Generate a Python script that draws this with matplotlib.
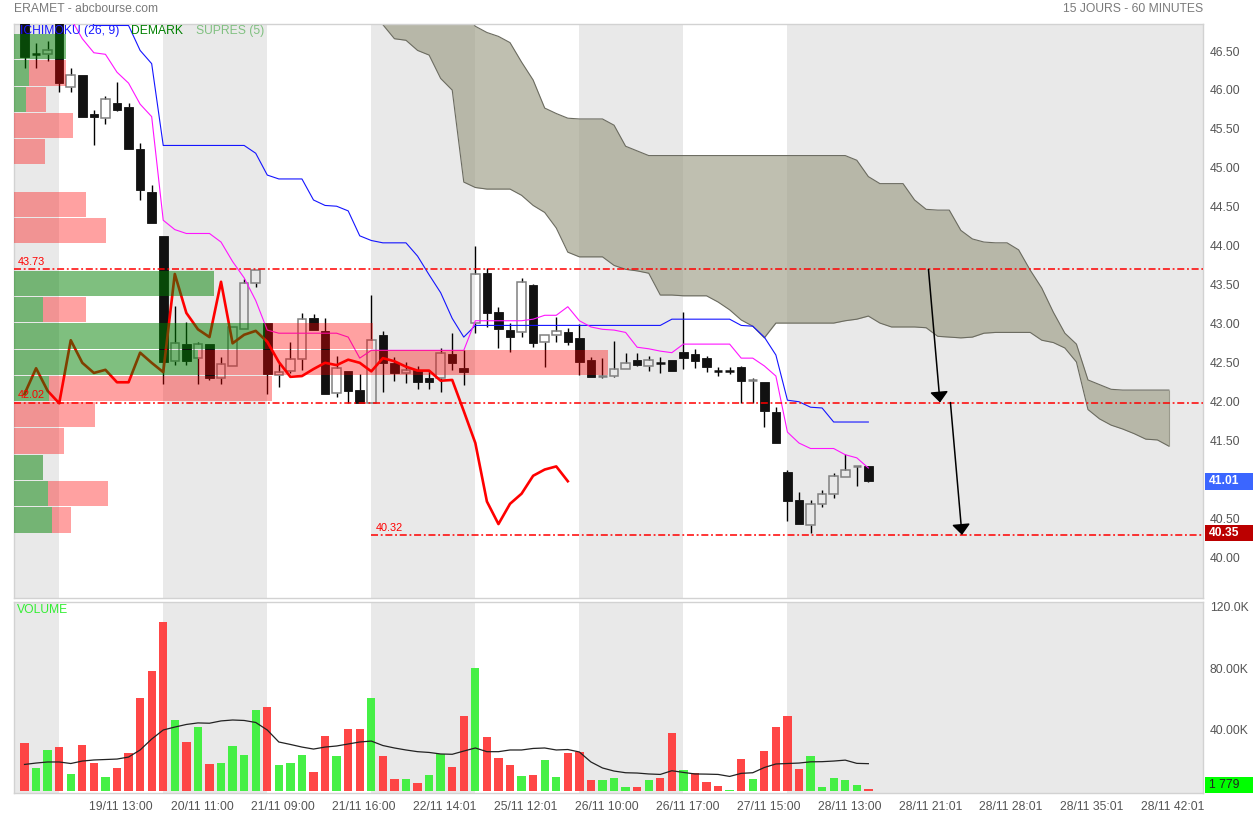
import matplotlib
matplotlib.use("Agg")
import matplotlib.pyplot as plt
import matplotlib.transforms as mtransforms
from matplotlib.patches import Rectangle
from matplotlib.ticker import FormatStrFormatter
import numpy as np

plt.rcParams["font.family"] = ["Liberation Sans", "DejaVu Sans"]

OUT_PATH = "out.png"
W_PX, H_PX, DPI = 1253, 818, 100

TITLE = "ERAMET - abcbourse.com"
PERIOD = "15 JOURS - 60 MINUTES"

# hourly candles, 18/11 14:00 -> 28/11 16:00
OPENS = [46.99, 46.50, 46.49, 46.95, 46.07, 46.23, 45.72, 45.67, 45.87, 45.81,
         45.28, 44.72, 44.16, 42.55, 42.77, 42.59, 42.77, 42.33, 42.49, 42.96,
         43.55, 43.04, 42.37, 42.42, 42.58, 43.10, 42.94, 42.14, 42.42, 42.18,
         42.01, 42.89, 42.53, 42.40, 42.44, 42.33, 42.33, 42.64, 42.46, 43.04,
         43.68, 43.18, 42.95, 42.92, 43.53, 42.80, 42.89, 42.92, 42.85, 42.57,
         42.35, 42.36, 42.45, 42.57, 42.49, 42.54, 42.57, 42.67, 42.64, 42.59,
         42.44, 42.44, 42.48, 42.30, 42.28, 41.90, 41.13, 40.77, 40.45, 40.72,
         40.85, 41.07, 41.19, 41.20]
HIGHS = [47.04, 46.63, 46.66, 46.98, 46.31, 46.23, 45.77, 45.95, 46.13, 45.87,
         45.35, 44.81, 44.16, 43.26, 43.05, 42.80, 42.77, 42.60, 42.99, 43.60,
         43.72, 43.04, 42.53, 42.80, 43.17, 43.16, 43.10, 42.62, 42.42, 42.39,
         43.40, 42.94, 42.60, 42.54, 42.49, 42.44, 42.72, 42.91, 42.69, 44.03,
         43.75, 43.25, 43.04, 43.62, 43.54, 42.89, 43.12, 42.98, 43.03, 42.60,
         42.59, 42.81, 42.66, 42.66, 42.62, 42.60, 42.57, 43.18, 42.71, 42.62,
         42.48, 42.48, 42.49, 42.33, 42.28, 41.96, 41.16, 40.87, 40.77, 40.90,
         41.12, 41.36, 41.20, 41.20]
LOWS = [46.31, 46.32, 46.41, 46.00, 46.01, 45.68, 45.32, 45.60, 45.76, 45.27,
        44.62, 44.32, 42.26, 42.50, 42.50, 42.26, 42.31, 42.26, 42.49, 42.96,
        43.50, 42.13, 42.22, 42.40, 42.44, 42.95, 42.13, 42.09, 42.01, 42.01,
        42.01, 42.16, 42.30, 42.27, 42.19, 42.19, 42.16, 42.44, 42.24, 42.91,
        42.99, 42.72, 42.67, 42.86, 42.73, 42.48, 42.80, 42.76, 42.37, 42.35,
        42.33, 42.35, 42.45, 42.49, 42.42, 42.40, 42.42, 42.45, 42.46, 42.41,
        42.36, 42.38, 42.01, 42.01, 41.71, 41.50, 40.50, 40.46, 40.35, 40.68,
        40.80, 41.07, 40.95, 41.00]
CLOSES = [46.45, 46.49, 46.55, 46.12, 46.23, 45.69, 45.68, 45.91, 45.77, 45.27,
          44.75, 44.32, 42.54, 42.78, 42.55, 42.77, 42.33, 42.51, 42.99, 43.55,
          43.72, 42.39, 42.41, 42.58, 43.09, 42.95, 42.13, 42.46, 42.17, 42.01,
          42.82, 42.53, 42.40, 42.44, 42.28, 42.28, 42.66, 42.53, 42.41, 43.67,
          43.17, 42.96, 42.86, 43.57, 42.78, 42.89, 42.94, 42.80, 42.54, 42.35,
          42.36, 42.45, 42.53, 42.50, 42.57, 42.53, 42.42, 42.59, 42.55, 42.48,
          42.43, 42.43, 42.30, 42.31, 41.91, 41.50, 40.75, 40.46, 40.72, 40.85,
          41.08, 41.16, 41.20, 41.01]

# volume in thousands of shares, 'g' = buying bar, 'r' = selling bar
VOLUMES = [31.6, 15.3, 27.0, 28.9, 11.6, 30.0, 18.3, 9.2, 15.5, 25.0,
           60.8, 78.4, 110.2, 46.5, 32.2, 42.2, 17.9, 18.7, 29.6, 23.9,
           53.0, 55.0, 17.0, 18.5, 23.7, 12.9, 35.9, 23.3, 40.5, 40.8,
           61.0, 23.1, 7.9, 8.1, 5.7, 10.5, 24.4, 16.2, 49.1, 80.5,
           35.7, 21.6, 17.4, 10.1, 10.9, 20.3, 9.6, 25.0, 25.7, 7.5,
           7.5, 9.0, 2.8, 2.9, 7.5, 9.0, 37.8, 13.8, 11.8, 6.4,
           3.8, 0.8, 20.9, 7.9, 26.3, 42.0, 48.9, 14.6, 23.3, 2.7,
           8.8, 7.3, 4.2, 1.779]
VOLUME_SIDE = list("rggrgrrgrr" "rrrgrgrggg" "grgggrrgrr" "grrgrggrrg"
                   "rrrgrggrrr" "gggrgrrgrr" "rgrgrrrrgg" "gggr")
VOLUME_MA = [17.6, 18.5, 19.2, 19.2, 18.2, 19.8, 20.5, 20.8, 21.1, 22.4,
             27.0, 34.1, 40.0, 41.9, 43.6, 44.6, 44.4, 45.9, 46.5, 46.2,
             44.9, 40.0, 32.2, 30.6, 28.9, 27.6, 28.9, 29.6, 30.9, 32.2,
             32.8, 29.9, 28.3, 27.0, 25.9, 25.4, 24.4, 24.2, 26.3, 28.3,
             25.9, 25.9, 27.0, 27.0, 28.0, 28.3, 27.0, 27.3, 25.7, 19.2,
             15.3, 13.3, 12.2, 12.0, 11.4, 11.1, 13.5, 12.4, 11.4, 11.3,
             11.1, 9.8, 11.8, 12.2, 15.6, 17.9, 18.2, 18.5, 19.3, 19.4,
             19.8, 20.4, 18.3, 18.1]

# ichimoku (26, 9)
TENKAN = [47.24, 47.24, 47.24, 47.24, 46.95, 46.69, 46.51, 46.49, 46.26, 46.12,
          45.85, 45.69, 44.36, 44.24, 44.19, 44.19, 44.19, 44.08, 43.83, 43.62,
          43.33, 42.95, 42.91, 42.91, 42.91, 42.91, 42.91, 42.91, 42.86, 42.59,
          42.69, 42.69, 42.69, 42.69, 42.69, 42.69, 42.69, 42.69, 42.69, 43.07,
          43.07, 43.07, 43.07, 43.07, 43.09, 43.14, 43.14, 43.25, 43.07, 42.99,
          42.96, 42.95, 42.92, 42.73, 42.71, 42.68, 42.66, 42.77, 42.77, 42.77,
          42.77, 42.77, 42.59, 42.59, 42.49, 42.36, 41.64, 41.50, 41.43, 41.43,
          41.43, 41.35, 41.31, 41.18]
KIJUN = [47.24, 47.24, 47.24, 47.24, 47.24, 47.24, 46.86, 46.86, 46.86, 46.86,
         46.54, 46.37, 45.32, 45.32, 45.32, 45.32, 45.32, 45.32, 45.32, 45.32,
         45.22, 44.94, 44.89, 44.89, 44.89, 44.62, 44.55, 44.54, 44.48, 44.16,
         44.10, 44.07, 44.07, 44.07, 43.90, 43.66, 43.43, 43.10, 42.86, 43.01,
         43.01, 43.01, 43.01, 43.01, 43.01, 43.01, 43.01, 43.01, 43.01, 43.01,
         43.01, 43.01, 43.01, 43.01, 43.01, 43.01, 43.09, 43.09, 43.09, 43.09,
         43.09, 43.09, 43.01, 43.00, 42.86, 42.63, 42.05, 42.03, 41.96, 41.95,
         41.77, 41.77, 41.77, 41.77]
CHIKOU_SHIFT = 26
CLOUD_START = 31
SPAN_UPPER = [47.34, 47.34, 47.34, 47.34, 47.34, 47.34, 47.34, 47.04, 46.85, 46.77,
              46.72, 46.64, 46.39, 46.16, 45.80, 45.73, 45.67, 45.66, 45.66, 45.66,
              45.58, 45.31, 45.25, 45.19, 45.19, 45.19, 45.19, 45.19, 45.19, 45.19,
              45.19, 45.19, 45.19, 45.19, 45.19, 45.19, 45.19, 45.19, 45.19, 45.19,
              45.19, 45.13, 44.92, 44.83, 44.83, 44.83, 44.62, 44.50, 44.49, 44.49,
              44.23, 44.12, 44.08, 44.07, 44.07, 43.98, 43.72, 43.49, 43.18, 42.91,
              42.77, 42.31, 42.25, 42.19, 42.18, 42.18, 42.18, 42.18, 42.18]
SPAN_LOWER = [46.87, 46.69, 46.67, 46.54, 46.48, 46.18, 46.03, 44.85, 44.78, 44.76,
              44.76, 44.76, 44.68, 44.55, 44.46, 44.26, 43.95, 43.89, 43.89, 43.89,
              43.78, 43.73, 43.71, 43.68, 43.40, 43.40, 43.39, 43.39, 43.39, 43.31,
              43.21, 43.08, 43.00, 42.85, 43.04, 43.04, 43.04, 43.04, 43.04, 43.04,
              43.07, 43.09, 43.13, 43.04, 42.99, 42.99, 42.99, 42.98, 42.87, 42.86,
              42.85, 42.86, 42.91, 42.92, 42.92, 42.92, 42.92, 42.82, 42.79, 42.72,
              42.54, 41.93, 41.81, 41.73, 41.68, 41.62, 41.55, 41.54, 41.46]

# volume by price (bottom bin first)
PROFILE_LOW = 40.35
PROFILE_STEP = 0.3376
PROFILE_BUY = [38, 34, 29, 0, 0, 35, 184, 251, 29, 200, 0, 0, 0, 0, 0, 0, 12, 15, 52]
PROFILE_SELL = [19, 60, 0, 50, 81, 223, 410, 108, 43, 0, 0, 92, 72, 0, 31, 59, 20, 37, 0]

# supports / resistances, and the candle they start from (None = whole chart)
LEVELS = [43.73, 42.02, 40.32]
LEVEL_FROM = [None, None, 30]
PROJECTIONS = [((78.2, 43.73), (79.2, 42.02)), ((80.1, 42.02), (81.1, 40.32))]

SESSION_STARTS = [3, 12, 21, 30, 39, 48, 57, 66]
XTICK_POS = [8.35, 15.35, 22.35, 29.35, 36.35, 43.35, 50.35, 57.35, 64.35, 71.35,
             78.35, 85.35, 92.35, 99.35]
XTICK_LABELS = ["19/11 13:00", "20/11 11:00", "21/11 09:00", "21/11 16:00", "22/11 14:01",
                "25/11 12:01", "26/11 10:00", "26/11 17:00", "27/11 15:00", "28/11 13:00",
                "28/11 21:01", "28/11 28:01", "28/11 35:01", "28/11 42:01"]
PRICE_TICKS = [40.0, 40.5, 41.0, 41.5, 42.0, 42.5, 43.0, 43.5, 44.0, 44.5, 45.0, 45.5, 46.0, 46.5]
VOLUME_TICKS = [40, 80, 120]
VOLUME_TICK_LABELS = ["40.00K", "80.00K", "120.0K"]

XMIN, XMAX = -0.91, 101.95
PRICE_LIM = (39.511, 46.879)
VOLUME_LIM = (-0.98, 123.25)
BAR_PX = 11.56  # pixels per candle, used to size the volume-profile bars

GRAY_BG = "#e9e9e9"
BORDER = "#d2d2d2"
TEXT_GRAY = "#555555"
BODY_W = 0.74


def fx(x):
    return x / W_PX


def fy(y):
    return 1 - y / H_PX


def shade_sessions(axis):
    edges = [XMIN] + SESSION_STARTS + [XMAX]
    for k in range(len(edges) - 1):
        if k % 2 == 0:
            axis.axvspan(edges[k], edges[k + 1], color=GRAY_BG, lw=0, zorder=0)


def style_axis(axis):
    for sp in axis.spines.values():
        sp.set_color(BORDER)
        sp.set_linewidth(1.0)
    axis.set_facecolor("white")


def value_box(fig, axis, y, text, face, color, weight, bottom=False, h_px=17):
    tr = mtransforms.blended_transform_factory(fig.transFigure, axis.transData)
    lo, hi = axis.get_ylim()
    px_per_unit = axis.get_position().height * H_PX / (hi - lo)
    h = h_px / px_per_unit
    y0 = lo if bottom else y - h / 2
    fig.add_artist(Rectangle((fx(1205), y0), fx(1253) - fx(1205), h, transform=tr,
                             facecolor=face, edgecolor="none", zorder=10))
    fig.text(fx(1209), y0 + h / 2, text, transform=tr, ha="left", va="center",
             fontsize=8.7, color=color, fontweight=weight, zorder=11)


def draw_candles(ax):
    for i, (o, h, l, c) in enumerate(zip(OPENS, HIGHS, LOWS, CLOSES)):
        top, bot = max(o, c), min(o, c)
        if top - bot < 0.015:
            ax.vlines(i, l, h, color="black", lw=1.0, zorder=3)
            col = "#808080" if c >= o else "#111111"
            ax.hlines(c, i - BODY_W / 2, i + BODY_W / 2, color=col, lw=1.8, zorder=3)
            continue
        ax.vlines(i, top, h, color="black", lw=1.0, zorder=3)
        ax.vlines(i, l, bot, color="black", lw=1.0, zorder=3)
        if c > o:
            ax.add_patch(Rectangle((i - BODY_W / 2, bot), BODY_W, top - bot, fill=False,
                                   edgecolor="#808080", lw=1.1, zorder=3))
        else:
            ax.add_patch(Rectangle((i - BODY_W / 2, bot), BODY_W, top - bot,
                                   facecolor="#111111", edgecolor="#111111", lw=0.6, zorder=3))


def main():
    fig = plt.figure(figsize=(W_PX / DPI, H_PX / DPI), dpi=DPI)
    ax = fig.add_axes([fx(14), fy(598), fx(1203) - fx(14), fy(24) - fy(598)])
    vax = fig.add_axes([fx(14), fy(793), fx(1203) - fx(14), fy(602) - fy(793)], sharex=ax)
    style_axis(ax)
    style_axis(vax)

    idx = np.arange(len(CLOSES))
    shade_sessions(ax)
    shade_sessions(vax)

    # ichimoku cloud
    xc = np.arange(CLOUD_START, CLOUD_START + len(SPAN_UPPER))
    ax.fill_between(xc, SPAN_LOWER, SPAN_UPPER, color=(156 / 255, 156 / 255, 132 / 255),
                    alpha=0.64, lw=0, zorder=1.5)
    ax.plot(xc, SPAN_UPPER, color="#6b6b60", lw=0.8, zorder=1.6)
    ax.plot(xc, SPAN_LOWER, color="#6b6b60", lw=0.8, zorder=1.6)
    ax.vlines(xc[-1], SPAN_LOWER[-1], SPAN_UPPER[-1], color="#9a9a8c", lw=0.8, zorder=1.6)

    draw_candles(ax)

    ax.plot(idx, KIJUN, color="#1414ff", lw=0.8, zorder=4)
    ax.plot(idx, TENKAN, color="#ff14ff", lw=0.8, zorder=4)
    chikou = CLOSES[CHIKOU_SHIFT:]
    ax.plot(np.arange(len(chikou)), chikou, color="#ff0000", lw=1.9, zorder=5)

    # volume by price, drawn over the chart
    bases = PROFILE_LOW + PROFILE_STEP * np.arange(len(PROFILE_BUY))
    buy_w = np.array(PROFILE_BUY) / BAR_PX
    sell_w = np.array(PROFILE_SELL) / BAR_PX
    hgt = PROFILE_STEP * 0.96
    ax.barh(bases, buy_w, height=hgt, left=XMIN, align="edge",
            color=(0, 0.5, 0, 0.5), lw=0, zorder=6)
    ax.barh(bases, sell_w, height=hgt, left=XMIN + buy_w, align="edge",
            color=(1, 0, 0, 0.37), lw=0, zorder=6)

    for level, start in zip(LEVELS, LEVEL_FROM):
        x0 = XMIN if start is None else start
        ax.hlines(level, x0, XMAX, colors="#ff0000", linestyles=(0, (4.6, 1.8, 1.2, 1.8)),
                  lw=1.1, zorder=7)
        ax.annotate(f"{level:.2f}", xy=(x0, level), xytext=(3, 1.5), textcoords="offset points",
                    ha="left", va="bottom", fontsize=7.8, color="#ff0000", zorder=8)

    for (x0, y0), (x1, y1) in PROJECTIONS:
        ax.annotate("", xy=(x1, y1), xytext=(x0, y0),
                    arrowprops=dict(arrowstyle="-|>,head_length=0.65,head_width=0.55",
                                    color="black", lw=1.1, shrinkA=0, shrinkB=0,
                                    mutation_scale=10),
                    zorder=8)

    ax.set_xlim(XMIN, XMAX)
    ax.set_ylim(*PRICE_LIM)
    ax.yaxis.tick_right()
    ax.set_yticks(PRICE_TICKS)
    ax.yaxis.set_major_formatter(FormatStrFormatter("%.2f"))
    ax.tick_params(axis="y", length=0, pad=5, labelsize=8.7, labelcolor=TEXT_GRAY)
    ax.tick_params(axis="x", bottom=False, labelbottom=False)
    nudge = mtransforms.ScaledTranslation(0, 2.5 / DPI, fig.dpi_scale_trans)
    for lab in ax.get_yticklabels():
        lab.set_transform(lab.get_transform() + nudge)

    # volume panel
    colors = ["#ff3c3c" if s == "r" else "#3cf03c" for s in VOLUME_SIDE]
    vax.bar(idx, VOLUMES, width=0.72, color=colors, alpha=0.95, lw=0, zorder=2)
    vax.plot(idx, VOLUME_MA, color="#222222", lw=0.9, zorder=3)
    vax.set_ylim(*VOLUME_LIM)
    vax.yaxis.tick_right()
    vax.set_yticks(VOLUME_TICKS)
    vax.set_yticklabels(VOLUME_TICK_LABELS)
    vax.tick_params(axis="y", length=0, pad=5, labelsize=8.7, labelcolor=TEXT_GRAY)
    vax.set_xticks(XTICK_POS)
    vax.set_xticklabels(XTICK_LABELS)
    vax.tick_params(axis="x", length=0, pad=6, labelsize=8.7, labelcolor=TEXT_GRAY)
    vax.set_xlim(XMIN, XMAX)

    # titles and legends
    fig.text(fx(14), fy(9), TITLE, ha="left", va="center", fontsize=8.7, color="#7a7a7a")
    fig.text(fx(1203), fy(9), PERIOD, ha="right", va="center", fontsize=8.7, color="#7a7a7a")
    fig.text(fx(20), fy(31), "ICHIMOKU (26, 9)", ha="left", va="center", fontsize=8.7,
             color="#1a1aff", zorder=12)
    fig.text(fx(131), fy(31), "DEMARK", ha="left", va="center", fontsize=8.7,
             color="#008000", zorder=12)
    fig.text(fx(196), fy(31), "SUPRES (5)", ha="left", va="center", fontsize=8.7,
             color="#80c080", zorder=12)
    fig.text(fx(17), fy(610), "VOLUME", ha="left", va="center", fontsize=8.7,
             color="#33ee33", zorder=12)

    value_box(fig, ax, CLOSES[-1], f"{CLOSES[-1]:.2f}", "#3b66ff", "white", "bold")
    low = min(LOWS)
    value_box(fig, ax, low, f"{low:.2f}", "#bb0000", "white", "bold", h_px=16)
    last_vol = f"{VOLUMES[-1] * 1000:,.0f}".replace(",", " ")
    value_box(fig, vax, 0, last_vol, "#00ff00", "#222222", "normal", bottom=True, h_px=16)

    fig.savefig(OUT_PATH, dpi=DPI)


if __name__ == "__main__":
    main()
